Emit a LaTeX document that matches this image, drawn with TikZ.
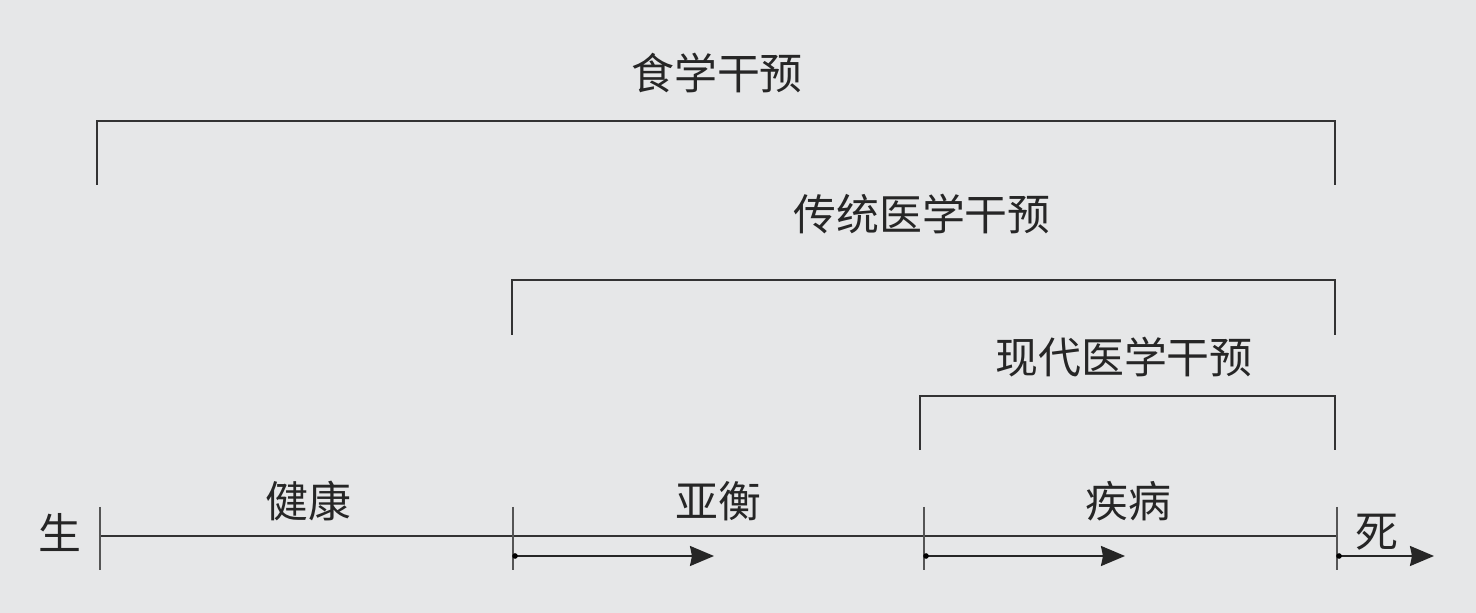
\documentclass[tikz,border=0pt]{standalone}
\usepackage{fontspec}
\newfontfamily\cjk{Noto Sans CJK SC}
\usetikzlibrary{arrows.meta}
\definecolor{bg}{HTML}{E6E7E8}
\definecolor{ln}{HTML}{333333}
\definecolor{tk}{HTML}{555555}
\begin{document}
\begin{tikzpicture}[x=0.01cm,y=-0.01cm,
  lbl/.style={font=\cjk\fontsize{12.2pt}{14pt}\selectfont, text=black!85, inner sep=0pt},
  brk/.style={draw=ln, line width=0.5pt},
  tick/.style={draw=tk, line width=0.55pt},
  axis/.style={draw=ln, line width=0.5pt},
  prog/.style={draw=black!85, line width=0.55pt, -{Stealth[length=0.24cm,width=0.2cm,inset=0.02cm]}},
  dotc/.style={fill=black, circle, inner sep=0pt, minimum size=1.6pt}]
\fill[bg] (0,0) rectangle (1476,613);
\useasboundingbox (0,0) rectangle (1476,613);
% timeline ticks
\coordinate (t0) at (100,536);
\coordinate (t1) at (513,536);
\coordinate (t2) at (924,536);
\coordinate (t3) at (1337,536);
\draw[axis] (t0) -- (t3);
\foreach \n in {t0,t1,t2,t3} \draw[tick] ([yshift=0.29cm]\n) -- ([yshift=-0.34cm]\n);
% progress arrows
\coordinate (a1s) at (515,556); \coordinate (a1e) at (714,556);
\coordinate (a2s) at (926,556); \coordinate (a2e) at (1125,556);
\coordinate (a3s) at (1339,556); \coordinate (a3e) at (1434,556);
\draw[prog] (a1s) -- (a1e);
\draw[prog] (a2s) -- (a2e);
\draw[prog] (a3s) -- (a3e);
\node[dotc] at (a1s) {};
\node[dotc] at (a2s) {};
\node[dotc] at (a3s) {};
% stage labels
\node[lbl] (sheng) at (60,533) {生};
\node[lbl] (jk) at (308,501) {健康};
\node[lbl] (yh) at (718,501) {亚衡};
\node[lbl] (jb) at (1128,501) {疾病};
\node[lbl] (si) at (1377,532) {死};
% brackets
\coordinate (b1l) at (97,185); \coordinate (b1r) at (1335,185);
\draw[brk] (b1l) -- ++(0,-64) -| (b1r);
\node[lbl] (l1) at (717,73) {食学干预};
\coordinate (b2l) at (512,335); \coordinate (b2r) at (1335,335);
\draw[brk] (b2l) -- ++(0,-55) -| (b2r);
\node[lbl] (l2) at (922,214) {传统医学干预};
\coordinate (b3l) at (920,450); \coordinate (b3r) at (1335,450);
\draw[brk] (b3l) -- ++(0,-54) -| (b3r);
\node[lbl] (l3) at (1124,357) {现代医学干预};
\end{tikzpicture}
\end{document}
